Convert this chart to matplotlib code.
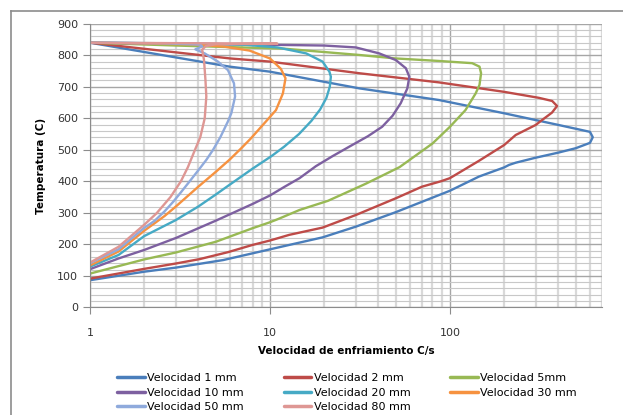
import matplotlib.pyplot as plt
from matplotlib.lines import Line2D

plt.rcParams['font.family'] = ['DejaVu Sans']

# velocidad de enfriamiento (C/s) y temperatura (C)
vel_1mm = [1, 5.97, 10, 31.4, 87, 200, 400, 600, 622, 600, 500, 400, 300, 232, 213, 200,
           145, 100, 70, 50, 30, 19.6, 12.8, 10, 5.5, 3, 2, 1]
temp_1mm = [840, 764, 748, 695, 658, 616, 579, 557, 540, 522, 505, 491, 475, 459, 452, 444,
            415, 370, 335, 302, 256, 222, 198, 184, 150, 126, 113, 86]

vel_2mm = [1, 6, 10, 31.4, 87, 200, 312, 370, 394, 369, 326, 300, 232, 200, 145, 100, 89,
           70, 50, 30, 19.6, 12.8, 10, 8, 5.84, 4.07, 3, 2, 1]
temp_2mm = [840, 790, 780, 743, 714, 684, 665, 655, 639, 618, 595, 579, 547, 515, 465, 410, 400,
            383, 346, 293, 253, 230, 212, 198, 175, 153, 139, 122, 91]

vel_5mm = [1, 3, 12, 31.4, 50, 87, 133, 146, 149, 146, 139, 122, 100, 80, 52.5, 34, 21,
           14.6, 11.3, 10, 8, 5, 3, 2, 1]
temp_5mm = [840, 831, 821, 801, 790, 782, 775, 764, 743, 706, 679, 626, 573, 520, 445, 392, 338,
            309, 282, 270, 251, 208, 174, 152, 107]

vel_10mm = [1, 5, 11.3, 20, 30, 40.5, 50, 56.9, 59.5, 58, 53.3, 48, 42, 35, 28, 22.3, 18,
            14.6, 12, 10, 8, 5, 3, 2, 1.44, 1]
temp_10mm = [840, 836, 833, 831, 825, 806, 785, 759, 732, 695, 648, 608, 573, 543, 512, 480, 448,
             410, 382, 355, 328, 275, 220, 182, 155, 121]

vel_20mm = [1, 3, 7.39, 11, 15.9, 19.6, 21.4, 21.8, 21.5, 20.6, 19, 17, 14.5, 12, 10.2, 8,
            6, 5, 4, 3, 2, 1.44, 1]
temp_20mm = [840, 838, 833, 825, 806, 780, 748, 732, 700, 665, 628, 592, 550, 510, 480, 440,
             390, 358, 320, 277, 226, 166, 129]

vel_30mm = [1, 3.5, 5.5, 7.7, 10, 11.5, 12.2, 11.8, 10.8, 9.5, 7.8, 6.93, 6, 5, 4, 3, 2.6,
            2, 1.44, 1]
temp_30mm = [840, 835, 828, 815, 790, 757, 727, 679, 626, 590, 535, 505, 470, 430, 383, 320, 290,
             243, 177, 133]

vel_50mm = [1, 2.5, 4.1, 4.2, 3.85, 4.34, 5.14, 5.84, 6.31, 6.4, 6.1, 5.84, 5.3, 4.83, 4.43,
            4, 3.58, 3.2, 2.9, 2.6, 2.29, 2, 1.44, 1]
temp_50mm = [840, 838, 834, 828, 819, 806, 780, 753, 711, 669, 616, 590, 540, 500, 468,
             435, 400, 365, 335, 305, 275, 252, 184, 140]

vel_80mm = [1, 11, 5, 4.4, 4.2, 4.3, 4.38, 4.43, 4.34, 4.1, 3.8, 3.5, 3.2, 2.8, 2.34, 2,
            1.44, 1]
temp_80mm = [840, 837, 835, 829, 818, 785, 722, 669, 600, 540, 495, 445, 400, 350, 298, 262,
             192, 142]

series = [
    ("Velocidad 1 mm", vel_1mm, temp_1mm, "#4A7EBB"),
    ("Velocidad 2 mm", vel_2mm, temp_2mm, "#BE4B48"),
    ("Velocidad 5mm", vel_5mm, temp_5mm, "#98B954"),
    ("Velocidad 10 mm", vel_10mm, temp_10mm, "#7D60A0"),
    ("Velocidad 20 mm", vel_20mm, temp_20mm, "#46AAC5"),
    ("Velocidad 30 mm", vel_30mm, temp_30mm, "#F69240"),
    ("Velocidad 50 mm", vel_50mm, temp_50mm, "#8FAADC"),
    ("Velocidad 80 mm", vel_80mm, temp_80mm, "#DE9794"),
]

fig = plt.figure(figsize=(6.23, 4.15), dpi=100)
ax = fig.add_axes([90 / 623, 1 - 307.3 / 415, 512 / 623, 283.5 / 415])

# marco exterior del grafico
fig.add_artist(Line2D([11 / 623, 1], [1 - 11 / 415] * 2, color="#8C8C8C", lw=1.2))
fig.add_artist(Line2D([11 / 623] * 2, [0, 1 - 11 / 415], color="#8C8C8C", lw=1.2))

handles = {}
for name, v, t, c in series:
    h, = ax.plot(v, t, color=c, lw=1.7, solid_capstyle="round", solid_joinstyle="round",
                 label=name)
    handles[name] = h

ax.set_xscale("log")
ax.set_xlim(1, 700)
ax.set_ylim(0, 900)
ax.set_yticks(range(0, 901, 100))
ax.set_yticks(range(0, 901, 20), minor=True)
ax.set_xticks([1, 10, 100])
ax.set_xticklabels(["1", "10", "100"])

ax.grid(True, which="major", color="#A6A6A6", lw=1.0)
ax.grid(True, which="minor", axis="y", color="#C8C8C8", lw=0.8)
ax.grid(True, which="minor", axis="x", color="#D9D9D9", lw=1.6)
ax.set_axisbelow(True)

for s in ["top", "right"]:
    ax.spines[s].set_visible(False)
ax.spines["left"].set_color("#8C8C8C")
ax.spines["bottom"].set_color("#8C8C8C")
ax.tick_params(axis="both", which="major", labelsize=8, colors="#8C8C8C", labelcolor="#333333",
               length=5)
ax.tick_params(axis="x", which="major", pad=10)
ax.tick_params(axis="both", which="minor", length=0)

ax.set_xlabel("Velocidad de enfriamiento C/s", fontsize=7.5, fontweight="bold", labelpad=6)
ax.set_ylabel("Temperatura (C)", fontsize=7.5, fontweight="bold", labelpad=8)

order = ["Velocidad 1 mm", "Velocidad 10 mm", "Velocidad 50 mm",
         "Velocidad 2 mm", "Velocidad 20 mm", "Velocidad 80 mm",
         "Velocidad 5mm", "Velocidad 30 mm"]
leg = fig.legend([handles[k] for k in order], order, ncol=3, loc="upper left",
                 bbox_to_anchor=(117 / 623, 1 - 373 / 415), frameon=False, fontsize=8,
                 handlelength=2.5, handletextpad=0.2, columnspacing=3.6, labelspacing=0.42,
                 borderpad=0, borderaxespad=0)
for h in leg.get_lines():
    h.set_linewidth(2.5)

fig.savefig("out.png", dpi=100)
